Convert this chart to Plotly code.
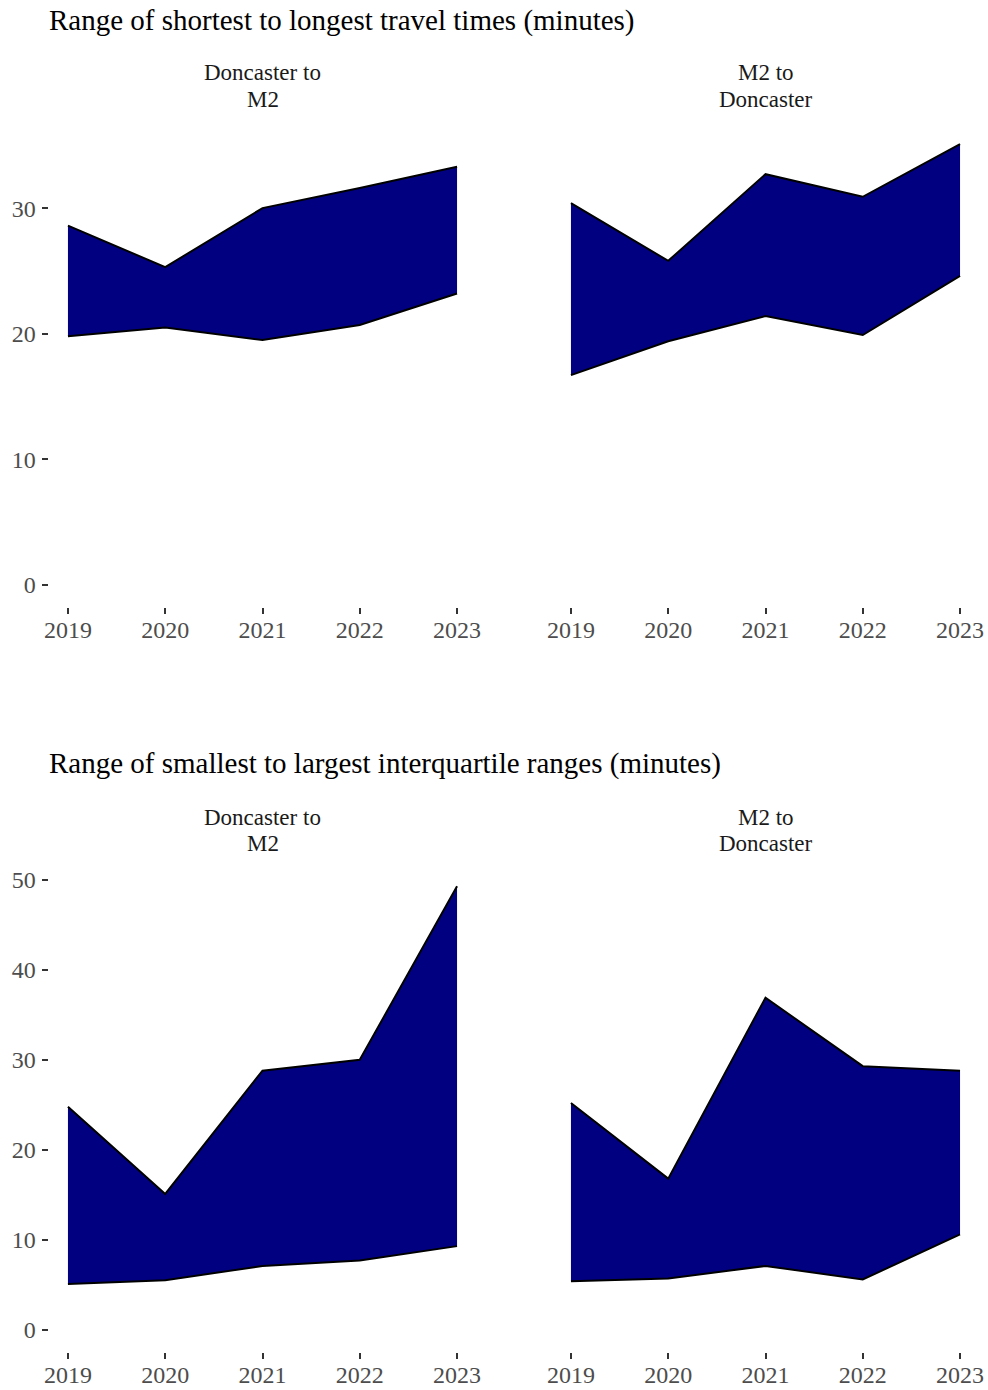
import plotly.graph_objects as go

years = [2019, 2020, 2021, 2022, 2023]
facet_titles = ["Doncaster to\nM2", "M2 to\nDoncaster"]

# Range of shortest to longest travel times (minutes)
tt_d2m_low = [19.8, 20.5, 19.5, 20.7, 23.2]
tt_d2m_high = [28.6, 25.3, 30.0, 31.6, 33.3]
tt_m2d_low = [16.7, 19.4, 21.4, 19.9, 24.6]
tt_m2d_high = [30.4, 25.8, 32.7, 30.9, 35.1]

# Range of smallest to largest interquartile ranges (minutes)
iqr_d2m_low = [5.1, 5.5, 7.1, 7.7, 9.3]
iqr_d2m_high = [24.8, 15.1, 28.8, 30.0, 49.3]
iqr_m2d_low = [5.4, 5.7, 7.1, 5.6, 10.6]
iqr_m2d_high = [25.2, 16.8, 36.9, 29.3, 28.8]

section_titles = [
    "Range of shortest to longest travel times (minutes)",
    "Range of smallest to largest interquartile ranges (minutes)",
]

W, H = 988, 1390
FONT = "Liberation Serif, Times New Roman, serif"
NAVY = "#000080"

def px_x(p):
    return p / W

def px_y(p):
    return 1 - p / H

fig = go.Figure()

panels = [
    # (low, high, x-domain px, y-domain px, show y axis, section)
    (tt_d2m_low, tt_d2m_high, (48.5, 476.5), (122, 607), True, 0),
    (tt_m2d_low, tt_m2d_high, (551.5, 979.5), (122, 607), False, 0),
    (iqr_d2m_low, iqr_d2m_high, (48.5, 476.5), (864, 1352), True, 1),
    (iqr_m2d_low, iqr_m2d_high, (551.5, 979.5), (864, 1352), False, 1),
]

section_max = [
    max(tt_d2m_high + tt_m2d_high),
    max(iqr_d2m_high + iqr_m2d_high),
]

layout_axes = {}
for i, (low, high, xd, yd, showy, sec) in enumerate(panels):
    n = i + 1
    xa = "x" if n == 1 else f"x{n}"
    ya = "y" if n == 1 else f"y{n}"
    fig.add_trace(go.Scatter(
        x=years, y=low, mode="lines", xaxis=xa, yaxis=ya,
        line=dict(color="black", width=2), showlegend=False, hoverinfo="skip",
    ))
    fig.add_trace(go.Scatter(
        x=years, y=high, mode="lines", xaxis=xa, yaxis=ya,
        fill="tonexty", fillcolor=NAVY,
        line=dict(color="black", width=2), showlegend=False, hoverinfo="skip",
    ))
    xspan = years[-1] - years[0]
    ymax = section_max[sec]
    xkey = "xaxis" if n == 1 else f"xaxis{n}"
    ykey = "yaxis" if n == 1 else f"yaxis{n}"
    layout_axes[xkey] = dict(
        domain=[px_x(xd[0]), px_x(xd[1])],
        range=[years[0] - 0.05 * xspan, years[-1] + 0.05 * xspan],
        anchor=ya, tickvals=years, ticktext=[str(y) for y in years],
        ticks="outside", ticklen=6, tickwidth=2, tickcolor="#333333",
        ticklabelstandoff=-5,
        showgrid=False, zeroline=False, showline=False, automargin=False,
        tickfont=dict(family=FONT, size=24, color="#4d4d4d"),
        fixedrange=True,
    )
    layout_axes[ykey] = dict(
        domain=[px_y(yd[1]), px_y(yd[0])],
        range=[-0.05 * ymax, ymax * 1.05],
        anchor=xa, dtick=10, tick0=0,
        ticks="outside" if showy else "", ticklen=6, tickwidth=2, tickcolor="#333333",
        ticklabelstandoff=1,
        showticklabels=showy,
        showgrid=False, zeroline=False, showline=False, automargin=False,
        tickfont=dict(family=FONT, size=24, color="#4d4d4d"),
        fixedrange=True,
    )

annotations = []
title_y = [20, 764]
strip_y = [(73, 99), (817, 843)]
for s in range(2):
    annotations.append(dict(
        text=section_titles[s], x=px_x(47), y=px_y(title_y[s]),
        xref="paper", yref="paper", xanchor="left", yanchor="middle",
        showarrow=False, font=dict(family=FONT, size=29, color="black"),
    ))
    for f, xd in enumerate([(48.5, 476.5), (551.5, 979.5)]):
        lines = facet_titles[f].split("\n")
        for li, line in enumerate(lines):
            annotations.append(dict(
                text=line, x=px_x((xd[0] + xd[1]) / 2), y=px_y(strip_y[s][li]),
                xref="paper", yref="paper", xanchor="center", yanchor="middle",
                showarrow=False, font=dict(family=FONT, size=23, color="#1a1a1a"),
            ))

fig.update_layout(
    width=W, height=H,
    margin=dict(l=0, r=0, t=0, b=0, autoexpand=False),
    paper_bgcolor="white", plot_bgcolor="white",
    showlegend=False,
    annotations=annotations,
    **layout_axes,
)

fig.write_html(
    "out.html",
    config={"displayModeBar": False, "staticPlot": True},
    post_script="document.body.style.margin='0';document.body.style.overflow='hidden';",
)
